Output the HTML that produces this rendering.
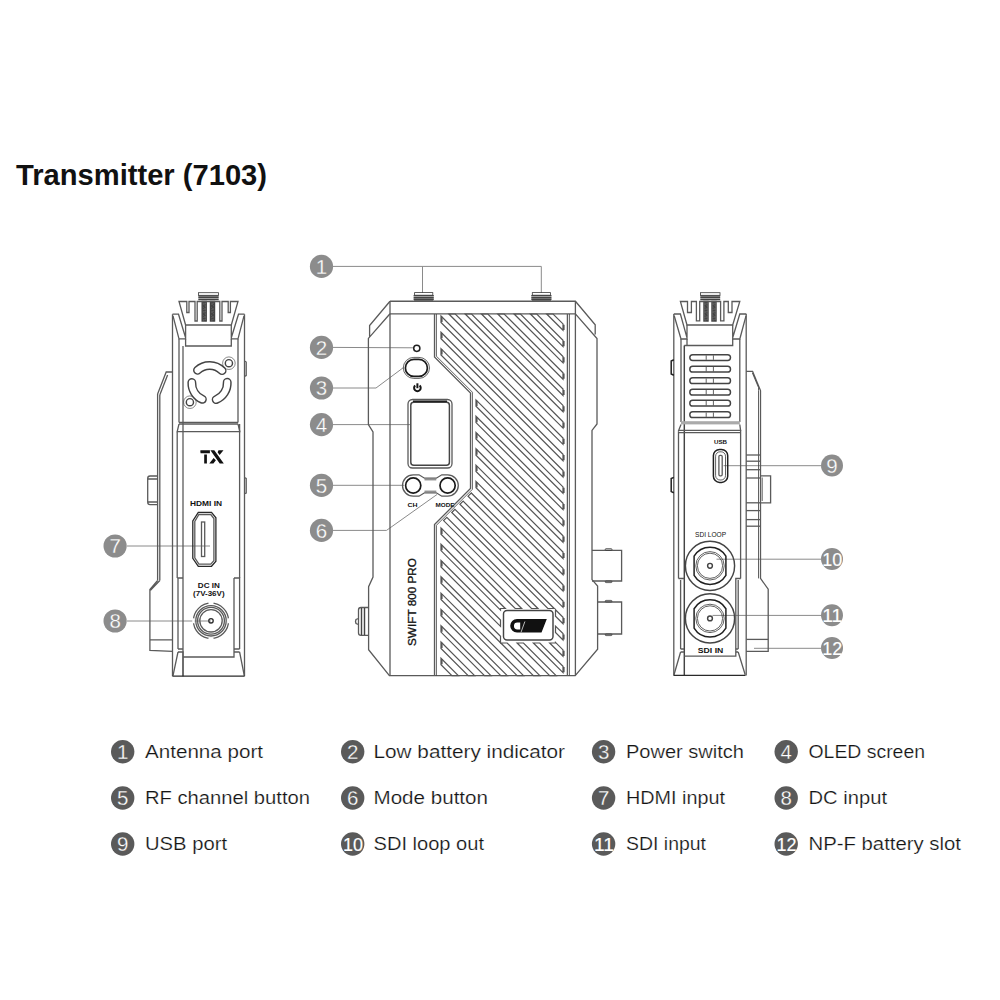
<!DOCTYPE html>
<html><head><meta charset="utf-8"><style>
html,body{margin:0;padding:0;background:#fff;}
svg{display:block;}
.blur{filter:blur(0.35px);}
.s{fill:none;stroke:#5a5a5a;stroke-width:1.3;}
.s12{fill:none;stroke:#444;stroke-width:1.45;}
.sl{fill:none;stroke:#8a8a8a;stroke-width:1;}
.t{font-family:"Liberation Sans",sans-serif;fill:#111;}
.cn{font-family:"Liberation Sans",sans-serif;fill:#fff;}
.lg{font-family:"Liberation Sans",sans-serif;fill:#141414;stroke:#fff;stroke-width:0.2;}
.dk{fill:#333;stroke:#222;stroke-width:0.6;}
.thr{fill:#777;stroke:#222;stroke-width:0.8;}
.s06{fill:none;stroke:#3a3a3a;stroke-width:0.6;}
.s13{fill:none;stroke:#2a2a2a;stroke-width:1.3;}
.w{fill:#fff;stroke:none;}
.tb{font-family:"Liberation Sans",sans-serif;font-weight:bold;fill:#111;}
.s08{fill:none;stroke:#3a3a3a;stroke-width:0.8;}
.s15{fill:none;stroke:#202020;stroke-width:1.5;}
.s17{fill:none;stroke:#1a1a1a;stroke-width:1.7;}
.s20{fill:none;stroke:#151515;stroke-width:2;}
.rib{fill:none;stroke:#555;stroke-width:1.22;stroke-linejoin:miter;}
.cap{fill:none;stroke:#555;stroke-width:1.6;}
.blk{fill:#111;stroke:none;}
.tx{font-family:"Liberation Serif",serif;font-weight:bold;fill:#111;}
.title{font-family:"Liberation Sans",sans-serif;font-weight:bold;fill:#111;}
</style></head><body>
<svg width="1000" height="1000" viewBox="0 0 1000 1000">
<rect width="1000" height="1000" fill="#fff"/>
<line x1="333.00" y1="266.40" x2="541.30" y2="266.40" class="sl"/>
<line x1="422.50" y1="266.40" x2="422.50" y2="293.00" class="sl"/>
<line x1="541.30" y1="266.40" x2="541.30" y2="293.00" class="sl"/>
<line x1="333.00" y1="347.40" x2="413.50" y2="347.80" class="sl"/>
<path d="M333,388 L376,388 L403.5,367.5" class="sl"/>
<line x1="333.00" y1="424.60" x2="410.00" y2="424.60" class="sl"/>
<line x1="333.00" y1="485.30" x2="404.00" y2="485.30" class="sl"/>
<path d="M333,530.4 L386.5,530.4 L437,494.5" class="sl"/>
<line x1="127.00" y1="546.00" x2="210.00" y2="546.00" class="sl"/>
<line x1="127.00" y1="621.00" x2="211.00" y2="621.00" class="sl"/>
<line x1="723.50" y1="465.70" x2="821.00" y2="465.70" class="sl"/>
<line x1="716.50" y1="559.20" x2="821.00" y2="559.20" class="sl"/>
<line x1="712.50" y1="615.40" x2="821.00" y2="615.40" class="sl"/>
<line x1="754.00" y1="648.30" x2="821.00" y2="648.30" class="sl"/>
<circle cx="321.5" cy="266.4" r="11.6" fill="#8c8c8c"/>
<text x="321.5" y="273.80" font-size="20.5" class="cn" text-anchor="middle" stroke="#8c8c8c" stroke-width="0.3">1</text>
<circle cx="321.5" cy="347.4" r="11.6" fill="#8c8c8c"/>
<text x="321.5" y="354.80" font-size="20.5" class="cn" text-anchor="middle" stroke="#8c8c8c" stroke-width="0.3">2</text>
<circle cx="321.5" cy="388" r="11.6" fill="#8c8c8c"/>
<text x="321.5" y="395.40" font-size="20.5" class="cn" text-anchor="middle" stroke="#8c8c8c" stroke-width="0.3">3</text>
<circle cx="321.5" cy="424.6" r="11.6" fill="#8c8c8c"/>
<text x="321.5" y="432.00" font-size="20.5" class="cn" text-anchor="middle" stroke="#8c8c8c" stroke-width="0.3">4</text>
<circle cx="321.5" cy="485.3" r="11.6" fill="#8c8c8c"/>
<text x="321.5" y="492.70" font-size="20.5" class="cn" text-anchor="middle" stroke="#8c8c8c" stroke-width="0.3">5</text>
<circle cx="321.5" cy="530.4" r="11.6" fill="#8c8c8c"/>
<text x="321.5" y="537.80" font-size="20.5" class="cn" text-anchor="middle" stroke="#8c8c8c" stroke-width="0.3">6</text>
<circle cx="115.1" cy="546" r="11.6" fill="#8c8c8c"/>
<text x="115.1" y="553.40" font-size="20.5" class="cn" text-anchor="middle" stroke="#8c8c8c" stroke-width="0.3">7</text>
<circle cx="115.1" cy="621" r="11.6" fill="#8c8c8c"/>
<text x="115.1" y="628.40" font-size="20.5" class="cn" text-anchor="middle" stroke="#8c8c8c" stroke-width="0.3">8</text>
<circle cx="832" cy="465.5" r="11" fill="#8c8c8c"/>
<text x="832" y="472.90" font-size="20.5" class="cn" text-anchor="middle" stroke="#8c8c8c" stroke-width="0.3">9</text>
<circle cx="832" cy="559" r="11" fill="#8c8c8c"/>
<text x="832.3" y="565.60" font-size="18" class="cn" text-anchor="middle" textLength="20" lengthAdjust="spacingAndGlyphs" stroke="#fff" stroke-width="0.15">10</text>
<circle cx="832" cy="615.3" r="11" fill="#8c8c8c"/>
<text x="832.3" y="621.90" font-size="18" class="cn" text-anchor="middle" textLength="20" lengthAdjust="spacingAndGlyphs" stroke="#fff" stroke-width="0.15">11</text>
<circle cx="832" cy="648" r="11" fill="#8c8c8c"/>
<text x="832.3" y="654.60" font-size="18" class="cn" text-anchor="middle" textLength="20" lengthAdjust="spacingAndGlyphs" stroke="#fff" stroke-width="0.15">12</text>
<rect x="198.50" y="292.70" width="20.00" height="2.60" rx="0" class="s08"/>
<path d="M198.3,296 L218.7,296 M198.3,297.8 L218.7,297.8 M198.3,299.6 L218.7,299.6" class="s12"/>
<rect x="202.20" y="301.50" width="4.00" height="19.50" rx="0" class="s12"/>
<path d="M202.6,302.0 L205.79999999999998,303.0 M202.6,303.6 L205.79999999999998,304.6 M202.6,305.2 L205.79999999999998,306.2 M202.6,306.8 L205.79999999999998,307.8 M202.6,308.4 L205.79999999999998,309.4 M202.6,310.0 L205.79999999999998,311.0 M202.6,311.6 L205.79999999999998,312.6 M202.6,313.2 L205.79999999999998,314.2 M202.6,314.8 L205.79999999999998,315.8 M202.6,316.4 L205.79999999999998,317.4 M202.6,318.0 L205.79999999999998,319.0 M202.6,319.6 L205.79999999999998,320.6" class="s12"/>
<rect x="210.50" y="301.50" width="4.00" height="19.50" rx="0" class="s12"/>
<path d="M210.9,302.0 L214.1,303.0 M210.9,303.6 L214.1,304.6 M210.9,305.2 L214.1,306.2 M210.9,306.8 L214.1,307.8 M210.9,308.4 L214.1,309.4 M210.9,310.0 L214.1,311.0 M210.9,311.6 L214.1,312.6 M210.9,313.2 L214.1,314.2 M210.9,314.8 L214.1,315.8 M210.9,316.4 L214.1,317.4 M210.9,318.0 L214.1,319.0 M210.9,319.6 L214.1,320.6" class="s12"/>
<path d="M179,301.5 L186.8,301.5 L186.8,312.5 L189,312.5 L189,301.5 L195,301.5 L195,321 L197.2,321 L197.2,301.5 L219.8,301.5 L219.8,321 L222,321 L222,301.5 L228.2,301.5 L228.2,312.5 L230.4,312.5 L230.4,301.5 L238,301.5 L231.3,325 L185.6,325 Z" class="s"/>
<path d="M172.5,314.2 L178.5,314.2 L185.6,337.8 M173,315.8 L179,338.9 L185.6,338.9 L185.6,325" class="s"/>
<path d="M244.5,314.2 L238.5,314.2 L231.3,337.8 M244,315.8 L238,338.9 L231.3,338.9 L231.3,325" class="s"/>
<path d="M185.6,338.9 L185.6,346 L231.3,346 L231.3,338.9" class="s"/>
<line x1="172.50" y1="314.20" x2="172.50" y2="676.20" class="s"/>
<line x1="244.50" y1="314.20" x2="244.50" y2="676.20" class="s"/>
<line x1="179.00" y1="338.90" x2="179.00" y2="422.40" class="s"/>
<line x1="238.00" y1="338.90" x2="238.00" y2="422.40" class="s"/>
<line x1="183.00" y1="346.00" x2="183.00" y2="676.20" class="s"/>
<path d="M224.72,367.98 A21.45,21.45 0 0 0 194.92,367.46 A3.75,3.75 0 0 0 200.04,372.95 A13.95,13.95 0 0 1 219.41,373.29 A3.75,3.75 0 0 0 224.72,367.98 Z" class="s12"/>
<path d="M188.11,382.40 A21.45,21.45 0 0 0 200.83,402.75 A3.75,3.75 0 0 0 203.88,395.89 A13.95,13.95 0 0 1 195.61,382.66 A3.75,3.75 0 0 0 188.11,382.40 Z" class="s12"/>
<path d="M217.59,403.04 A21.45,21.45 0 0 0 230.97,382.03 A3.75,3.75 0 0 0 223.48,382.42 A13.95,13.95 0 0 1 214.78,396.08 A3.75,3.75 0 0 0 217.59,403.04 Z" class="s12"/>
<circle cx="228.90" cy="363.20" r="6.30" class="s06"/>
<circle cx="228.90" cy="363.20" r="3.60" class="s12"/>
<circle cx="189.90" cy="402.20" r="6.30" class="s06"/>
<circle cx="189.90" cy="402.20" r="3.60" class="s12"/>
<line x1="179.00" y1="422.40" x2="238.00" y2="422.40" class="s"/>
<line x1="179.00" y1="424.00" x2="238.00" y2="424.00" class="s"/>
<path d="M179,424 L177.2,431.7 L239.8,431.7 L238,424" class="s"/>
<line x1="177.20" y1="431.70" x2="177.20" y2="578.00" class="s"/>
<line x1="239.60" y1="424.00" x2="239.60" y2="578.00" class="s"/>
<path d="M200.4,450.2 L209.9,450.2 L209.9,453.2 L200.6,453.2 Q200.2,451.7 200.4,450.2 Z M204.2,454.6 L206.9,454.6 L206.9,463.5 L204.2,463.5 Z M210.4,450.2 L214.3,450.2 L223.8,463.5 L219.7,463.5 Z M218.5,450.2 L223.5,450.2 L219.6,455.1 L217.6,452.2 Z M213.6,457.9 L215.9,460.3 L213.4,463.5 L209.3,463.5 Z" class="blk"/>
<text x="206" y="506.3" font-size="7.6" class="tb" text-anchor="middle" textLength="32" lengthAdjust="spacingAndGlyphs" >HDMI IN</text>
<path d="M198.3,512.4 L211.5,512.4 L215.9,517.8 L215.9,561.3 L211.5,566.3 L198.3,566.3 L192.8,558.3 L192.8,521 Z" class="s13"/>
<path d="M198.9,514.5 L210.8,514.5 L213.9,518.5 L213.9,560.6 L210.8,564.2 L198.9,564.2 L194.8,557.8 L194.8,521.5 Z" class="s"/>
<rect x="201.50" y="522.00" width="3.20" height="34.50" rx="0" class="s"/>
<path d="M177.2,578 L183,578 M178,578 L178,649 M234,578 L239.6,578 L239.6,649 M234,578 L234,657 L183,657" class="s"/>
<path d="M178,649 L183,649 M178,652 L183,652 L183,676.2 M178,652 L173,675.6" class="s"/>
<path d="M234,649 L239.6,649 M234,652 L239.6,652 M239.6,652 L244.3,675.6" class="s"/>
<line x1="172.50" y1="676.20" x2="244.50" y2="676.20" class="s13"/>
<text x="208.8" y="588.2" font-size="7.8" class="tb" text-anchor="middle" textLength="22" lengthAdjust="spacingAndGlyphs" >DC IN</text>
<text x="208.8" y="596.2" font-size="7.6" class="tb" text-anchor="middle" textLength="31.5" lengthAdjust="spacingAndGlyphs" >(7V-36V)</text>
<circle cx="211.00" cy="620.80" r="17.60" class="s"/>
<circle cx="211.00" cy="620.80" r="15.20" class="s"/>
<circle cx="211.00" cy="620.80" r="13.40" class="s"/>
<circle cx="211.00" cy="620.80" r="11.20" class="s"/>
<circle cx="211.00" cy="620.80" r="2.20" class="s13"/>
<rect x="208.50" y="602.00" width="5.00" height="2.40" rx="0" class="w"/>
<rect x="208.50" y="637.20" width="5.00" height="2.40" rx="0" class="w"/>
<rect x="192.20" y="618.30" width="2.40" height="5.00" rx="0" class="w"/>
<rect x="227.40" y="618.30" width="2.40" height="5.00" rx="0" class="w"/>
<path d="M157.6,394 L166.2,372 L172.5,372" class="s"/>
<path d="M159.8,395 L167.6,375" class="s"/>
<line x1="157.60" y1="394.00" x2="157.60" y2="580.50" class="s"/>
<line x1="159.80" y1="395.00" x2="159.80" y2="580.50" class="s"/>
<path d="M159.8,580.5 L150.5,590.4 M157.6,580.5 L149.9,589.5 L149.9,650.3 L172.5,651.4 M149.9,639.9 L172.5,639.9" class="s"/>
<path d="M157.6,476 L150,476 Q147.7,476 147.7,478.5 L147.7,502 Q147.7,504.6 150,504.6 L157.6,504.6 M148,479 L157.6,479 M148,502 L157.6,502" class="s"/>
<path d="M244.5,361 L246.2,362 L246.2,375.5 L244.5,376.3" class="s"/>
<path d="M244.5,477.7 L246.2,478.5 L246.2,493 L244.5,493.6" class="s"/>
<rect x="414.60" y="292.60" width="18.20" height="2.60" rx="0" class="s08"/>
<path d="M413.6,295.6 L433.8,295.6 M413.6,297.4 L433.8,297.4 M413.6,299.2 L433.8,299.2 M414.1,301 L433.3,301" class="s12"/>
<rect x="532.30" y="292.60" width="18.20" height="2.60" rx="0" class="s08"/>
<path d="M531.3,295.6 L551.5,295.6 M531.3,297.4 L551.5,297.4 M531.3,299.2 L551.5,299.2 M531.8,301 L551.0,301" class="s12"/>
<path d="M390,301.25 L575.4,301.25 L595.2,324.8 L595.2,334.4 M575.4,313.9 L597,338.6 L597,424 L592,430.4 L592,579.6 L597.6,586 L597.6,649.2 L575.2,675.6 L389.4,675.7 L368.6,649.7 L368.6,586.7 L373,577 L373,432 L368.4,424.5 L368.4,338.4 L390,313.75 M390,301.25 L369.6,325.6 L369.6,336.5" class="s"/>
<line x1="390.00" y1="313.80" x2="575.40" y2="313.80" class="s"/>
<line x1="390.00" y1="301.25" x2="390.00" y2="675.70" class="s"/>
<line x1="575.40" y1="301.25" x2="575.40" y2="675.60" class="s"/>
<path d="M434.5,314 L434.5,357 L470.5,393 L470.5,488.5 L434.5,524.5 L434.5,675.6" class="s"/>
<path d="M436.4,314 L436.4,356.2 L472.4,392.2 L472.4,489.3 L436.4,525.3 L436.4,675.6" class="s08"/>
<line x1="567.40" y1="314.00" x2="567.40" y2="675.60" class="s"/>
<line x1="569.40" y1="314.00" x2="569.40" y2="675.60" class="s08"/>
<path d="M553.10,314.00 L546.70,314.00 L563.00,330.30 L563.00,323.90 L553.10,314.00Z" class="rib"/>
<line x1="563.80" y1="324.70" x2="563.80" y2="329.90" class="cap"/>
<path d="M536.80,314.00 L530.40,314.00 L563.00,346.60 L563.00,340.20 L536.80,314.00Z" class="rib"/>
<line x1="563.80" y1="341.00" x2="563.80" y2="346.20" class="cap"/>
<path d="M520.50,314.00 L514.10,314.00 L563.00,362.90 L563.00,356.50 L520.50,314.00Z" class="rib"/>
<line x1="563.80" y1="357.30" x2="563.80" y2="362.50" class="cap"/>
<path d="M504.20,314.00 L497.80,314.00 L563.00,379.20 L563.00,372.80 L504.20,314.00Z" class="rib"/>
<line x1="563.80" y1="373.60" x2="563.80" y2="378.80" class="cap"/>
<path d="M487.90,314.00 L481.50,314.00 L563.00,395.50 L563.00,389.10 L487.90,314.00Z" class="rib"/>
<line x1="563.80" y1="389.90" x2="563.80" y2="395.10" class="cap"/>
<path d="M471.60,314.00 L465.20,314.00 L563.00,411.80 L563.00,405.40 L471.60,314.00Z" class="rib"/>
<line x1="563.80" y1="406.20" x2="563.80" y2="411.40" class="cap"/>
<path d="M455.30,314.00 L448.90,314.00 L563.00,428.10 L563.00,421.70 L455.30,314.00Z" class="rib"/>
<line x1="563.80" y1="422.50" x2="563.80" y2="427.70" class="cap"/>
<path d="M441.00,316.00 L441.00,322.40 L563.00,444.40 L563.00,438.00 L441.00,316.00Z" class="rib"/>
<line x1="441.80" y1="316.80" x2="441.80" y2="322.00" class="cap"/>
<line x1="563.80" y1="438.80" x2="563.80" y2="444.00" class="cap"/>
<path d="M441.00,332.30 L441.00,338.70 L563.00,460.70 L563.00,454.30 L441.00,332.30Z" class="rib"/>
<line x1="441.80" y1="333.10" x2="441.80" y2="338.30" class="cap"/>
<line x1="563.80" y1="455.10" x2="563.80" y2="460.30" class="cap"/>
<path d="M441.00,348.60 L441.00,355.00 L563.00,477.00 L563.00,470.60 L441.00,348.60Z" class="rib"/>
<line x1="441.80" y1="349.40" x2="441.80" y2="354.60" class="cap"/>
<line x1="563.80" y1="471.40" x2="563.80" y2="476.60" class="cap"/>
<path d="M476.00,399.90 L476.00,406.30 L563.00,493.30 L563.00,486.90 L476.00,399.90Z" class="rib"/>
<line x1="476.80" y1="400.70" x2="476.80" y2="405.90" class="cap"/>
<line x1="563.80" y1="487.70" x2="563.80" y2="492.90" class="cap"/>
<path d="M476.00,416.20 L476.00,422.60 L563.00,509.60 L563.00,503.20 L476.00,416.20Z" class="rib"/>
<line x1="476.80" y1="417.00" x2="476.80" y2="422.20" class="cap"/>
<line x1="563.80" y1="504.00" x2="563.80" y2="509.20" class="cap"/>
<path d="M476.00,432.50 L476.00,438.90 L563.00,525.90 L563.00,519.50 L476.00,432.50Z" class="rib"/>
<line x1="476.80" y1="433.30" x2="476.80" y2="438.50" class="cap"/>
<line x1="563.80" y1="520.30" x2="563.80" y2="525.50" class="cap"/>
<path d="M476.00,448.80 L476.00,455.20 L563.00,542.20 L563.00,535.80 L476.00,448.80Z" class="rib"/>
<line x1="476.80" y1="449.60" x2="476.80" y2="454.80" class="cap"/>
<line x1="563.80" y1="536.60" x2="563.80" y2="541.80" class="cap"/>
<path d="M476.00,465.10 L476.00,471.50 L563.00,558.50 L563.00,552.10 L476.00,465.10Z" class="rib"/>
<line x1="476.80" y1="465.90" x2="476.80" y2="471.10" class="cap"/>
<line x1="563.80" y1="552.90" x2="563.80" y2="558.10" class="cap"/>
<path d="M476.00,481.40 L476.00,487.80 L563.00,574.80 L563.00,568.40 L476.00,481.40Z" class="rib"/>
<line x1="476.80" y1="482.20" x2="476.80" y2="487.40" class="cap"/>
<line x1="563.80" y1="569.20" x2="563.80" y2="574.40" class="cap"/>
<path d="M471.25,492.95 L468.05,496.15 L563.00,591.10 L563.00,584.70 L471.25,492.95Z" class="rib"/>
<line x1="563.80" y1="585.50" x2="563.80" y2="590.70" class="cap"/>
<path d="M463.10,501.10 L459.90,504.30 L563.00,607.40 L563.00,601.00 L463.10,501.10Z" class="rib"/>
<line x1="563.80" y1="601.80" x2="563.80" y2="607.00" class="cap"/>
<path d="M454.95,509.25 L451.75,512.45 L547.80,608.50 L554.20,608.50 L454.95,509.25Z" class="rib"/>
<path d="M555.50,609.80 L555.50,616.20 L563.00,623.70 L563.00,617.30 L555.50,609.80Z" class="rib"/>
<line x1="563.80" y1="618.10" x2="563.80" y2="623.30" class="cap"/>
<path d="M446.80,517.40 L443.60,520.60 L531.50,608.50 L537.90,608.50 L446.80,517.40Z" class="rib"/>
<path d="M555.50,626.10 L555.50,632.50 L563.00,640.00 L563.00,633.60 L555.50,626.10Z" class="rib"/>
<line x1="563.80" y1="634.40" x2="563.80" y2="639.60" class="cap"/>
<path d="M441.00,527.90 L441.00,534.30 L515.20,608.50 L521.60,608.50 L441.00,527.90Z" class="rib"/>
<line x1="441.80" y1="528.70" x2="441.80" y2="533.90" class="cap"/>
<path d="M555.50,642.40 L555.50,643.00 L549.70,643.00 L563.00,656.30 L563.00,649.90 L555.50,642.40Z" class="rib"/>
<line x1="563.80" y1="650.70" x2="563.80" y2="655.90" class="cap"/>
<path d="M441.00,544.20 L441.00,550.60 L500.50,610.10 L500.50,608.50 L505.30,608.50 L441.00,544.20Z" class="rib"/>
<line x1="441.80" y1="545.00" x2="441.80" y2="550.20" class="cap"/>
<path d="M539.80,643.00 L533.40,643.00 L563.00,672.60 L563.00,666.20 L539.80,643.00Z" class="rib"/>
<line x1="563.80" y1="667.00" x2="563.80" y2="672.20" class="cap"/>
<path d="M441.00,560.50 L441.00,566.90 L500.50,626.40 L500.50,620.00 L441.00,560.50Z" class="rib"/>
<line x1="441.80" y1="561.30" x2="441.80" y2="566.50" class="cap"/>
<path d="M523.50,643.00 L517.10,643.00 L549.70,675.60 L556.10,675.60 L523.50,643.00Z" class="rib"/>
<path d="M441.00,576.80 L441.00,583.20 L500.50,642.70 L500.50,636.30 L441.00,576.80Z" class="rib"/>
<line x1="441.80" y1="577.60" x2="441.80" y2="582.80" class="cap"/>
<path d="M507.20,643.00 L500.80,643.00 L533.40,675.60 L539.80,675.60 L507.20,643.00Z" class="rib"/>
<path d="M441.00,593.10 L441.00,599.50 L517.10,675.60 L523.50,675.60 L441.00,593.10Z" class="rib"/>
<line x1="441.80" y1="593.90" x2="441.80" y2="599.10" class="cap"/>
<path d="M441.00,609.40 L441.00,615.80 L500.80,675.60 L507.20,675.60 L441.00,609.40Z" class="rib"/>
<line x1="441.80" y1="610.20" x2="441.80" y2="615.40" class="cap"/>
<path d="M441.00,625.70 L441.00,632.10 L484.50,675.60 L490.90,675.60 L441.00,625.70Z" class="rib"/>
<line x1="441.80" y1="626.50" x2="441.80" y2="631.70" class="cap"/>
<path d="M441.00,642.00 L441.00,648.40 L468.20,675.60 L474.60,675.60 L441.00,642.00Z" class="rib"/>
<line x1="441.80" y1="642.80" x2="441.80" y2="648.00" class="cap"/>
<path d="M441.00,658.30 L441.00,664.70 L451.90,675.60 L458.30,675.60 L441.00,658.30Z" class="rib"/>
<line x1="441.80" y1="659.10" x2="441.80" y2="664.30" class="cap"/>
<rect x="503.50" y="610.50" width="49.50" height="29.50" rx="3.5" class="s12"/>
<path d="M517,618.9 L546.8,618.9 L541.5,632.5 L517,632.5 A6.8,6.8 0 0 1 517,618.9 Z M520.2,622.5 L517.4,622.5 A3.45,3.45 0 0 0 517.4,629.4 L520.2,629.4 Z" class="blk"/>
<line x1="524.9" y1="621.5" x2="521" y2="632.3" stroke="#fff" stroke-width="0.7"/>
<circle cx="416.80" cy="348.30" r="3.10" class="s15"/>
<rect x="403.30" y="357.40" width="26.20" height="21.00" rx="10.5" class="s08"/>
<rect x="405.40" y="359.40" width="22.00" height="17.00" rx="8.5" class="s17"/>
<path d="M415.2,385.4 A3.3,3.3 0 1 0 419.6,385.4" class="s20"/>
<line x1="417.40" y1="383.30" x2="417.40" y2="388.20" class="s20"/>
<rect x="408.00" y="399.50" width="44.00" height="68.50" rx="4.5" class="s"/>
<rect x="410.80" y="402.30" width="38.60" height="63.00" rx="3" class="s12"/>
<line x1="413.00" y1="401.20" x2="447.00" y2="401.20" class="s15"/>
<circle cx="413.20" cy="485.50" r="7.60" class="s17"/>
<circle cx="447.60" cy="485.50" r="7.60" class="s17"/>
<path d="M413.2,474.8 A10.7,10.7 0 1 0 413.2,496.2 L419,496.2 L424.5,492.8 L436.3,492.8 L441.8,496.2 L447.6,496.2 A10.7,10.7 0 1 0 447.6,474.8 L441.8,474.8 L436.3,478.2 L424.5,478.2 L419,474.8 Z" class="s"/>
<path d="M424.5,479.8 L436.3,479.8 M424.5,491.2 L436.3,491.2" class="s08"/>
<text x="412.5" y="507.2" font-size="6.2" class="tb" text-anchor="middle" textLength="10" lengthAdjust="spacingAndGlyphs" >CH</text>
<text x="445" y="507.2" font-size="6.2" class="tb" text-anchor="middle" textLength="19" lengthAdjust="spacingAndGlyphs" >MODE</text>
<text x="0" y="0" font-size="10" class="t" stroke="#111" stroke-width="0.3" text-anchor="middle" textLength="88" lengthAdjust="spacingAndGlyphs" transform="translate(416.4,602) rotate(-90)">SWIFT 800 PRO</text>
<path d="M368.6,607.5 L361,607.5 Q358.5,607.5 358.5,610 L358.5,633 Q358.5,635.4 361,635.4 L368.6,635.4" class="s"/>
<path d="M361.5,608 L361.5,635 M364.5,608 L364.5,635" class="s12"/>
<path d="M358.5,618.5 L356,619.5 L355.5,621.5 L356,623.5 L358.5,624.5" class="s"/>
<path d="M592,550.3 L621.6,550.3 L621.6,581 L592,581" class="s"/>
<path d="M597.6,602 L621.6,602 L621.6,634 L597.6,634" class="s"/>
<rect x="605.20" y="548.70" width="6.80" height="1.60" rx="0.8" class="s08"/>
<rect x="605.20" y="581.00" width="6.80" height="1.60" rx="0.8" class="s08"/>
<rect x="605.20" y="600.40" width="6.80" height="1.60" rx="0.8" class="s08"/>
<rect x="605.20" y="634.00" width="6.80" height="1.60" rx="0.8" class="s08"/>
<rect x="700.50" y="292.70" width="19.50" height="2.60" rx="0" class="s08"/>
<path d="M700.3,296 L720.2,296 M700.3,297.8 L720.2,297.8 M700.3,299.6 L720.2,299.6" class="s12"/>
<rect x="704.00" y="301.50" width="4.00" height="19.50" rx="0" class="s12"/>
<path d="M704.4,302.0 L707.6,303.0 M704.4,303.6 L707.6,304.6 M704.4,305.2 L707.6,306.2 M704.4,306.8 L707.6,307.8 M704.4,308.4 L707.6,309.4 M704.4,310.0 L707.6,311.0 M704.4,311.6 L707.6,312.6 M704.4,313.2 L707.6,314.2 M704.4,314.8 L707.6,315.8 M704.4,316.4 L707.6,317.4 M704.4,318.0 L707.6,319.0 M704.4,319.6 L707.6,320.6" class="s12"/>
<rect x="712.00" y="301.50" width="4.00" height="19.50" rx="0" class="s12"/>
<path d="M712.4,302.0 L715.6,303.0 M712.4,303.6 L715.6,304.6 M712.4,305.2 L715.6,306.2 M712.4,306.8 L715.6,307.8 M712.4,308.4 L715.6,309.4 M712.4,310.0 L715.6,311.0 M712.4,311.6 L715.6,312.6 M712.4,313.2 L715.6,314.2 M712.4,314.8 L715.6,315.8 M712.4,316.4 L715.6,317.4 M712.4,318.0 L715.6,319.0 M712.4,319.6 L715.6,320.6" class="s12"/>
<path d="M680.4,301.5 L687.5,301.5 L687.5,312.5 L691.4,312.5 L691.4,301.5 L696.4,301.5 L696.4,320.8 L699.7,320.8 L699.7,301.5 L720.6,301.5 L720.6,320.8 L723.9,320.8 L723.9,301.5 L728.3,301.5 L728.3,312.5 L732,312.5 L732,301.5 L739.8,301.5 L732.7,325 L687,325 Z" class="s"/>
<path d="M673.8,314 L680.4,314 L687,337.8 M674.2,315.8 L681,339 L687,339 L687,325" class="s"/>
<path d="M746.4,314 L739.8,314 L732.7,337.8 M746,315.8 L739.8,339 L732.7,339 L732.7,325" class="s"/>
<path d="M687,339 L687,345.5 L684.3,345.5 M687,345.5 L732.7,345.5 L732.7,339" class="s"/>
<line x1="673.80" y1="314.00" x2="673.80" y2="675.40" class="s"/>
<line x1="746.20" y1="314.00" x2="746.20" y2="675.40" class="s"/>
<line x1="681.00" y1="339.00" x2="681.00" y2="422.00" class="s"/>
<line x1="739.80" y1="339.00" x2="739.80" y2="422.00" class="s"/>
<line x1="684.30" y1="345.50" x2="684.30" y2="675.40" class="s12"/>
<rect x="689.80" y="354.70" width="40.70" height="5.80" rx="2.9" class="s12"/>
<line x1="706.20" y1="355.40" x2="706.20" y2="359.80" class="s08"/>
<line x1="713.40" y1="355.40" x2="713.40" y2="359.80" class="s08"/>
<rect x="689.80" y="366.30" width="40.70" height="5.80" rx="2.9" class="s12"/>
<line x1="706.20" y1="367.00" x2="706.20" y2="371.40" class="s08"/>
<line x1="713.40" y1="367.00" x2="713.40" y2="371.40" class="s08"/>
<rect x="689.80" y="377.80" width="40.70" height="5.80" rx="2.9" class="s12"/>
<line x1="706.20" y1="378.50" x2="706.20" y2="382.90" class="s08"/>
<line x1="713.40" y1="378.50" x2="713.40" y2="382.90" class="s08"/>
<rect x="689.80" y="389.30" width="40.70" height="5.80" rx="2.9" class="s12"/>
<line x1="706.20" y1="390.00" x2="706.20" y2="394.40" class="s08"/>
<line x1="713.40" y1="390.00" x2="713.40" y2="394.40" class="s08"/>
<rect x="689.80" y="400.30" width="40.70" height="5.80" rx="2.9" class="s12"/>
<line x1="706.20" y1="401.00" x2="706.20" y2="405.40" class="s08"/>
<line x1="713.40" y1="401.00" x2="713.40" y2="405.40" class="s08"/>
<rect x="689.80" y="411.80" width="40.70" height="5.80" rx="2.9" class="s12"/>
<line x1="706.20" y1="412.50" x2="706.20" y2="416.90" class="s08"/>
<line x1="713.40" y1="412.50" x2="713.40" y2="416.90" class="s08"/>
<rect x="681" y="421.2" width="58.8" height="3.2" fill="#aaa"/>
<path d="M681,424.5 L678.7,430.3 L740.6,430.3 L739.8,424.5" class="s"/>
<line x1="678.70" y1="432.60" x2="740.60" y2="432.60" class="s"/>
<line x1="678.50" y1="431.20" x2="678.50" y2="578.50" class="s"/>
<line x1="740.60" y1="430.30" x2="740.60" y2="578.50" class="s"/>
<text x="720.5" y="444" font-size="6.2" class="tb" text-anchor="middle" textLength="13" lengthAdjust="spacingAndGlyphs" >USB</text>
<rect x="713.40" y="449.40" width="14.30" height="33.00" rx="6.2" class="s15"/>
<rect x="715.60" y="451.80" width="9.90" height="28.20" rx="4.4" class="s08"/>
<rect x="718.90" y="455.40" width="3.30" height="20.40" rx="1.2" class="s"/>
<text x="710.6" y="537" font-size="7.2" class="t" text-anchor="middle" textLength="31" lengthAdjust="spacingAndGlyphs" >SDI LOOP</text>
<text x="710.6" y="652.6" font-size="8" class="tb" text-anchor="middle" textLength="25.5" lengthAdjust="spacingAndGlyphs" >SDI  IN</text>
<circle cx="710.00" cy="565.80" r="24.60" class="s12"/>
<path d="M694.10,556.15 A18.6,18.6 0 0 1 725.90,556.15 L725.90,575.45 A18.6,18.6 0 0 1 694.10,575.45 Z" class="s15"/>
<circle cx="710.00" cy="565.80" r="14.20" class="s08"/>
<circle cx="710.00" cy="565.80" r="12.60" class="s08"/>
<circle cx="710.00" cy="565.80" r="2.40" class="s12"/>
<circle cx="710.00" cy="618.40" r="24.60" class="s12"/>
<path d="M694.10,608.75 A18.6,18.6 0 0 1 725.90,608.75 L725.90,628.05 A18.6,18.6 0 0 1 694.10,628.05 Z" class="s15"/>
<circle cx="710.00" cy="618.40" r="14.20" class="s08"/>
<circle cx="710.00" cy="618.40" r="12.60" class="s08"/>
<circle cx="710.00" cy="618.40" r="2.40" class="s12"/>
<path d="M678.5,578.5 L684.3,578.5 M740.7,578.5 L735.8,578.5 L735.8,656.2 L684.3,656.2" class="s"/>
<path d="M680.6,580 L680.6,649 M738.2,580 L738.2,649 M680.6,649 L684.3,649 M735.8,649 L738.2,649 M680.6,652 L684.3,652 M735.8,652 L738.2,652" class="s"/>
<path d="M680.6,652 L674,674.8 M738.2,652 L745.2,674.8" class="s"/>
<line x1="673.60" y1="675.40" x2="745.50" y2="675.40" class="s13"/>
<path d="M746.2,371.4 L752.6,371.4 L760.5,390.6 L760.5,578.4 L768.2,589.2 L768.2,651.4 L746.2,651.4" class="s"/>
<line x1="758.50" y1="390.60" x2="758.50" y2="578.40" class="s08"/>
<path d="M752.4,373 L758.5,387.5 L758.5,390.6" class="s08"/>
<line x1="746.40" y1="639.40" x2="768.20" y2="639.40" class="s"/>
<line x1="746.20" y1="455.00" x2="760.50" y2="455.00" class="s"/>
<line x1="746.20" y1="461.20" x2="760.50" y2="461.20" class="s"/>
<line x1="746.20" y1="469.70" x2="760.50" y2="469.70" class="s"/>
<line x1="746.20" y1="478.00" x2="760.50" y2="478.00" class="s"/>
<line x1="746.20" y1="502.80" x2="760.50" y2="502.80" class="s"/>
<line x1="746.20" y1="510.60" x2="760.50" y2="510.60" class="s"/>
<line x1="746.20" y1="519.60" x2="760.50" y2="519.60" class="s"/>
<line x1="746.20" y1="526.20" x2="760.50" y2="526.20" class="s"/>
<path d="M760.5,475.8 L770.6,475.8 L770.6,502.8 L760.5,502.8" class="s"/>
<line x1="762.20" y1="477.50" x2="762.20" y2="501.00" class="s08"/>
<path d="M673.8,359.8 L671.2,361 L671.2,374 L673.8,375.2" class="s15"/>
<path d="M673.8,477.4 L671.2,478.6 L671.2,491.6 L673.8,492.8" class="s15"/>
<text x="16" y="185" font-size="29" class="title" text-anchor="start" textLength="251" lengthAdjust="spacingAndGlyphs" >Transmitter (7103)</text>
<circle cx="122.7" cy="751.8" r="11.7" fill="#5a5a5a"/>
<text x="122.7" y="759.20" font-size="20.5" class="cn" text-anchor="middle" stroke="#5a5a5a" stroke-width="0.3">1</text>
<text x="145" y="758.0999999999999" font-size="18" class="lg" text-anchor="start" textLength="118" lengthAdjust="spacingAndGlyphs" >Antenna port</text>
<circle cx="352.7" cy="751.8" r="11.7" fill="#5a5a5a"/>
<text x="352.7" y="759.20" font-size="20.5" class="cn" text-anchor="middle" stroke="#5a5a5a" stroke-width="0.3">2</text>
<text x="373.5" y="758.0999999999999" font-size="18" class="lg" text-anchor="start" textLength="191.5" lengthAdjust="spacingAndGlyphs" >Low battery indicator</text>
<circle cx="603.6" cy="751.8" r="11.7" fill="#5a5a5a"/>
<text x="603.6" y="759.20" font-size="20.5" class="cn" text-anchor="middle" stroke="#5a5a5a" stroke-width="0.3">3</text>
<text x="626" y="758.0999999999999" font-size="18" class="lg" text-anchor="start" textLength="118" lengthAdjust="spacingAndGlyphs" >Power switch</text>
<circle cx="786.2" cy="751.8" r="11.7" fill="#5a5a5a"/>
<text x="786.2" y="759.20" font-size="20.5" class="cn" text-anchor="middle" stroke="#5a5a5a" stroke-width="0.3">4</text>
<text x="808.5" y="758.0999999999999" font-size="18" class="lg" text-anchor="start" textLength="116.5" lengthAdjust="spacingAndGlyphs" >OLED screen</text>
<circle cx="122.7" cy="798" r="11.7" fill="#5a5a5a"/>
<text x="122.7" y="805.40" font-size="20.5" class="cn" text-anchor="middle" stroke="#5a5a5a" stroke-width="0.3">5</text>
<text x="145" y="804.3" font-size="18" class="lg" text-anchor="start" textLength="165" lengthAdjust="spacingAndGlyphs" >RF channel button</text>
<circle cx="352.7" cy="798" r="11.7" fill="#5a5a5a"/>
<text x="352.7" y="805.40" font-size="20.5" class="cn" text-anchor="middle" stroke="#5a5a5a" stroke-width="0.3">6</text>
<text x="373.5" y="804.3" font-size="18" class="lg" text-anchor="start" textLength="114.5" lengthAdjust="spacingAndGlyphs" >Mode button</text>
<circle cx="603.6" cy="798" r="11.7" fill="#5a5a5a"/>
<text x="603.6" y="805.40" font-size="20.5" class="cn" text-anchor="middle" stroke="#5a5a5a" stroke-width="0.3">7</text>
<text x="626" y="804.3" font-size="18" class="lg" text-anchor="start" textLength="99" lengthAdjust="spacingAndGlyphs" >HDMI input</text>
<circle cx="786.2" cy="798" r="11.7" fill="#5a5a5a"/>
<text x="786.2" y="805.40" font-size="20.5" class="cn" text-anchor="middle" stroke="#5a5a5a" stroke-width="0.3">8</text>
<text x="808.5" y="804.3" font-size="18" class="lg" text-anchor="start" textLength="78.5" lengthAdjust="spacingAndGlyphs" >DC input</text>
<circle cx="122.7" cy="844" r="11.7" fill="#5a5a5a"/>
<text x="122.7" y="851.40" font-size="20.5" class="cn" text-anchor="middle" stroke="#5a5a5a" stroke-width="0.3">9</text>
<text x="145" y="850.3" font-size="18" class="lg" text-anchor="start" textLength="82" lengthAdjust="spacingAndGlyphs" >USB port</text>
<circle cx="352.7" cy="844" r="11.7" fill="#5a5a5a"/>
<text x="353.0" y="850.60" font-size="18" class="cn" text-anchor="middle" textLength="20" lengthAdjust="spacingAndGlyphs" stroke="#fff" stroke-width="0.15">10</text>
<text x="373.5" y="850.3" font-size="18" class="lg" text-anchor="start" textLength="110.5" lengthAdjust="spacingAndGlyphs" >SDI loop out</text>
<circle cx="603.6" cy="844" r="11.7" fill="#5a5a5a"/>
<text x="603.9" y="850.60" font-size="18" class="cn" text-anchor="middle" textLength="20" lengthAdjust="spacingAndGlyphs" stroke="#fff" stroke-width="0.15">11</text>
<text x="626" y="850.3" font-size="18" class="lg" text-anchor="start" textLength="80" lengthAdjust="spacingAndGlyphs" >SDI input</text>
<circle cx="786.2" cy="844" r="11.7" fill="#5a5a5a"/>
<text x="786.5" y="850.60" font-size="18" class="cn" text-anchor="middle" textLength="20" lengthAdjust="spacingAndGlyphs" stroke="#fff" stroke-width="0.15">12</text>
<text x="808.5" y="850.3" font-size="18" class="lg" text-anchor="start" textLength="152.5" lengthAdjust="spacingAndGlyphs" >NP-F battery slot</text>
</svg></body></html>
